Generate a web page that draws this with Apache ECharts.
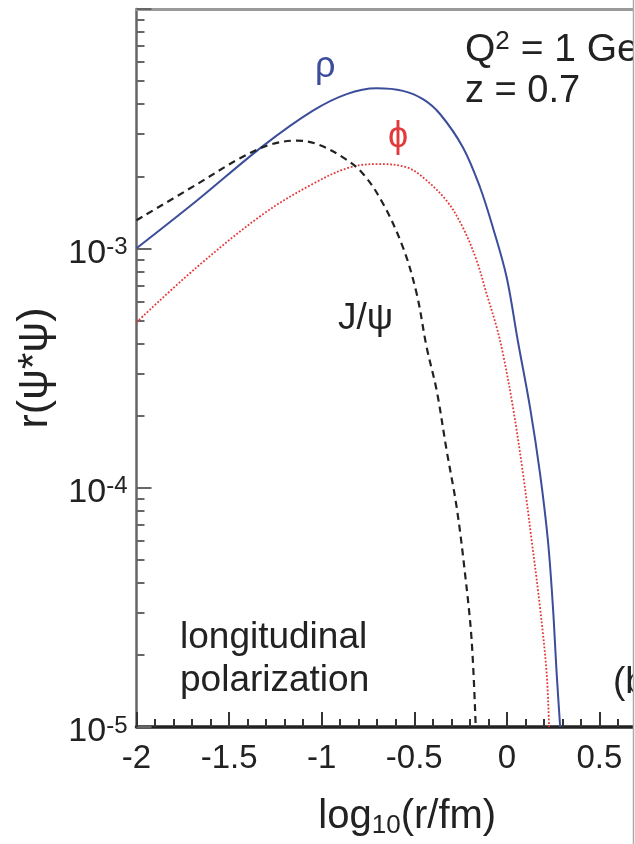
<!DOCTYPE html>
<html>
<head>
<meta charset="utf-8">
<script src="https://cdn.jsdelivr.net/npm/echarts@6/dist/echarts.min.js"></script>
<style>
  html, body { margin: 0; padding: 0; background: #fff; }
  #chart { width: 635px; height: 844px; }
</style>
</head>
<body>
<div id="chart"></div>
<script>
// curves: x = log10(r/fm), y = r(psi*psi)
var rhoX = [-2.0, -1.675, -1.316, -1.047, -0.865, -0.703, -0.561, -0.453, -0.362, -0.237, -0.145, -0.075, -0.001, 0.059, 0.125, 0.179, 0.222, 0.249, 0.269, 0.288];
var rhoY = [1.0e-3, 1.58e-3, 2.68e-3, 3.76e-3, 4.41e-3, 4.66e-3, 4.55e-3, 4.20e-3, 3.65e-3, 2.64e-3, 1.80e-3, 1.22e-3, 7.57e-4, 4.12e-4, 2.17e-4, 1.15e-4, 6.0e-5, 3.17e-5, 1.68e-5, 1.0e-5];

var phiX = [-2.0, -1.675, -1.316, -1.047, -0.847, -0.685, -0.541, -0.453, -0.325, -0.237, -0.163, -0.109, -0.055, -0.021, 0.033, 0.087, 0.134, 0.179, 0.215, 0.228];
var phiY = [4.91e-4, 8.33e-4, 1.39e-3, 1.86e-3, 2.18e-3, 2.25e-3, 2.18e-3, 1.98e-3, 1.58e-3, 1.22e-3, 8.89e-4, 6.45e-4, 4.68e-4, 3.63e-4, 2.17e-4, 1.15e-4, 6.03e-5, 3.17e-5, 1.68e-5, 1.0e-5];

var jpsiX = [-2.0, -1.675, -1.441, -1.279, -1.135, -1.027, -0.885, -0.777, -0.669, -0.561, -0.487, -0.433, -0.379, -0.325, -0.271, -0.226, -0.190, -0.168];
var jpsiY = [1.31e-3, 1.85e-3, 2.38e-3, 2.71e-3, 2.82e-3, 2.73e-3, 2.40e-3, 2.05e-3, 1.54e-3, 1.01e-3, 6.47e-4, 3.86e-4, 2.55e-4, 1.43e-4, 8.29e-5, 4.39e-5, 2.30e-5, 1.0e-5];

// log minor ticks 2..9 in each decade
var minorTicksY = [];
for (var d = -5; d <= -3; d++) {
    for (var k = 2; k <= 9; k++) {
        minorTicksY.push(k * Math.pow(10, d));
    }
}

var FONT = '"Liberation Sans", Arial, Helvetica, sans-serif';
var INK = '#222';

function pairs(xs, ys) {
    return xs.map(function (x, i) { return [x, ys[i]]; });
}

var chart = echarts.init(document.getElementById('chart'));

var option = {
    backgroundColor: '#fff',
    animation: false,
    textStyle: { fontFamily: FONT },
    grid: {
        left: 136.5,
        right: -57,
        top: 9,
        bottom: 117,
        containLabel: false,
        outerBoundsMode: 'none'
    },
    xAxis: [
        {
            type: 'value',
            min: -2,
            max: 1,
            interval: 0.5,
            position: 'bottom',
            name: '{a|log}{s|10}{a|(r/fm)}',
            nameLocation: 'middle',
            nameGap: 68,
            nameTextStyle: {
                padding: [0, 14, 0, 0],
                rich: {
                    a: { fontSize: 40, color: INK, fontFamily: FONT, lineHeight: 44 },
                    s: { fontSize: 26, color: INK, fontFamily: FONT, verticalAlign: 'bottom', lineHeight: 44, padding: [16, 0, 0, 0] }
                }
            },
            axisLine: { show: true, onZero: false, lineStyle: { color: '#222', width: 3.5 } },
            axisTick: { show: true, inside: true, length: 15, lineStyle: { color: '#333', width: 2 } },
            minorTick: { show: true, splitNumber: 5, length: 8, lineStyle: { color: '#333', width: 2 } },
            axisLabel: { fontSize: 33, color: INK, margin: 15, fontFamily: FONT },
            splitLine: { show: false }
        },
        {
            type: 'value',
            min: -2,
            max: 1,
            position: 'top',
            axisLine: { show: true, onZero: false, lineStyle: { color: '#9a9a9a', width: 3 } },
            axisTick: { show: false },
            axisLabel: { show: false },
            splitLine: { show: false }
        }
    ],
    yAxis: [
        {
            type: 'log',
            logBase: 10,
            min: 1e-5,
            max: 1e-2,
            name: 'r(ψ*ψ)',
            nameLocation: 'middle',
            nameGap: 80,
            nameTextStyle: { fontSize: 43, color: INK, fontFamily: FONT },
            axisLine: { show: true, onZero: false, lineStyle: { color: '#666', width: 2.5 } },
            axisTick: { show: true, inside: true, length: 15, lineStyle: { color: '#666', width: 2 } },
            axisLabel: {
                margin: 9,
                padding: [10, 0, 0, 0],
                formatter: function (v) {
                    var e = Math.round(Math.log10(v));
                    if (e > -3) {
                        return '';
                    }
                    return '{b|10}{s|' + e + '}';
                },
                rich: {
                    b: { fontSize: 34, color: INK, fontFamily: FONT, lineHeight: 36 },
                    s: { fontSize: 24, color: INK, fontFamily: FONT, verticalAlign: 'top', lineHeight: 24 }
                }
            },
            splitLine: { show: false }
        },
        {
            type: 'log',
            logBase: 10,
            min: 1e-5,
            max: 1e-2,
            position: 'left',
            axisLine: { show: false, onZero: false },
            axisTick: {
                show: true,
                inside: true,
                length: 8,
                customValues: minorTicksY,
                lineStyle: { color: '#666', width: 2 }
            },
            axisLabel: { show: false },
            splitLine: { show: false }
        }
    ],
    series: [
        {
            name: 'rho',
            type: 'line',
            data: pairs(rhoX, rhoY),
            showSymbol: false,
            smooth: 0.35,
            clip: true,
            lineStyle: { color: '#3b4d9b', width: 2, type: 'solid' }
        },
        {
            name: 'phi',
            type: 'line',
            data: pairs(phiX, phiY),
            showSymbol: false,
            smooth: 0.35,
            clip: true,
            lineStyle: { color: '#e2393a', width: 1.8, type: 'dotted' }
        },
        {
            name: 'J/psi',
            type: 'line',
            data: pairs(jpsiX, jpsiY),
            showSymbol: false,
            smooth: 0.35,
            clip: true,
            lineStyle: { color: '#222', width: 2.2, type: [7, 5] }
        }
    ],
    graphic: [
        { type: 'text', left: 315, top: 49, style: { text: 'ρ', font: '36px ' + FONT, fill: '#3b4d9b' } },
        { type: 'text', left: 388, top: 119, style: { text: 'ϕ', font: '36px ' + FONT, fill: '#e2393a' } },
        { type: 'text', left: 338, top: 300, style: { text: 'J/ψ', font: '37px ' + FONT, fill: INK } },
        {
            type: 'text', left: 465, top: 29,
            style: {
                text: '{a|Q}{s|2}{a| = 1 GeV}{s|2}',
                rich: {
                    a: { fontSize: 39, fill: INK, fontFamily: FONT, lineHeight: 42 },
                    s: { fontSize: 26, fill: INK, fontFamily: FONT, verticalAlign: 'top', lineHeight: 30 }
                }
            }
        },
        { type: 'text', left: 465, top: 73, style: { text: 'z = 0.7', font: '38px ' + FONT, fill: INK } },
        { type: 'text', left: 180, top: 619, style: { text: 'longitudinal', font: '37px ' + FONT, fill: INK } },
        { type: 'text', left: 180, top: 662, style: { text: 'polarization', font: '37px ' + FONT, fill: INK } },
        { type: 'text', left: 613, top: 664, style: { text: '(b)', font: '37px ' + FONT, fill: INK } },
        {
            type: 'rect', z: 100,
            shape: { x: 634, y: 0, width: 2, height: 844 },
            style: { fill: '#fff' }
        },
        {
            type: 'line', z: 101,
            shape: { x1: 633.5, y1: 0, x2: 633.5, y2: 844 },
            style: { stroke: '#aaa', lineWidth: 1.5 }
        }
    ]
};

chart.setOption(option);
</script>
</body>
</html>
